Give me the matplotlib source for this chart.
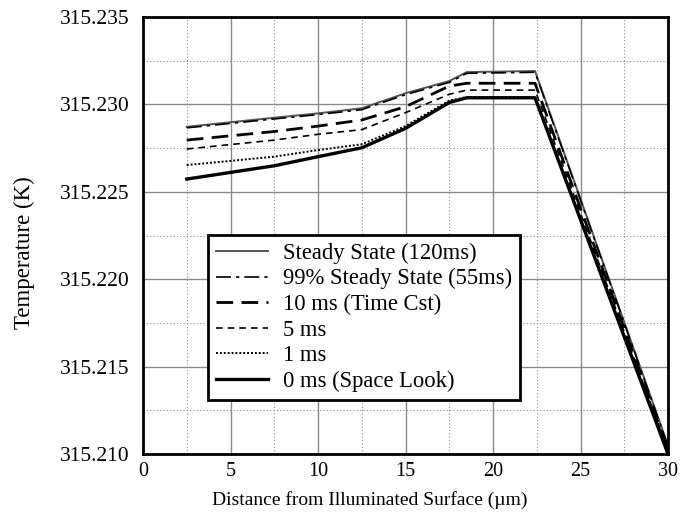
import numpy as np
import matplotlib
matplotlib.use("Agg")
import matplotlib.pyplot as plt
from matplotlib.ticker import MultipleLocator, FormatStrFormatter

plt.rcParams['font.family'] = ['Liberation Serif', 'DejaVu Serif']

# distance from illuminated surface (um)
depth = [2.5, 7.5, 10, 12.5, 15, 17.5, 18.5, 22.4, 30]

# temperature profiles (K)
t_steady = [315.22872, 315.22924, 315.22949, 315.22978, 315.23064, 315.23134, 315.23185, 315.23191, 315.21050]
t_99pct = [315.22866, 315.22917, 315.22942, 315.22970, 315.23056, 315.23126, 315.23178, 315.23184, 315.21045]
t_10ms = [315.22796, 315.22845, 315.22876, 315.22911, 315.22987, 315.23105, 315.23121, 315.23121, 315.21030]
t_5ms = [315.22745, 315.22796, 315.22829, 315.22856, 315.22953, 315.23058, 315.23082, 315.23082, 315.21020]
t_1ms = [315.22653, 315.22701, 315.22739, 315.22772, 315.22876, 315.23022, 315.23042, 315.23042, 315.21005]
t_0ms = [315.22573, 315.22649, 315.22701, 315.22752, 315.22863, 315.23011, 315.23038, 315.23038, 315.21000]

labels = ['Steady State (120ms)', '99% Steady State (55ms)', '10 ms (Time Cst)',
          '5 ms', '1 ms', '0 ms (Space Look)']

fig = plt.figure(figsize=(6.82, 5.19), dpi=100)
ax = fig.add_axes([0.2097, 0.1252, 0.7698, 0.842])

ax.plot(depth, t_steady, color='#555555', lw=1.4, ls='-', label=labels[0])
ax.plot(depth, t_99pct, color='black', lw=1.2, ls=(0, (9, 3, 2, 3)), label=labels[1])
ax.plot(depth, t_10ms, color='black', lw=2.0, ls=(0, (6, 3)), label=labels[2])
ax.plot(depth, t_5ms, color='black', lw=1.2, ls=(0, (4, 3)), label=labels[3])
ax.plot(depth, t_1ms, color='black', lw=1.4, ls=(0, (1, 1)), label=labels[4])
ax.plot(depth, t_0ms, color='black', lw=2.4, ls='-', label=labels[5])

ax.set_xlim(0, 30)
ax.set_ylim(315.210, 315.235)
ax.xaxis.set_major_locator(MultipleLocator(5))
ax.xaxis.set_minor_locator(MultipleLocator(2.5))
ax.yaxis.set_major_locator(MultipleLocator(0.005))
ax.yaxis.set_minor_locator(MultipleLocator(0.0025))
ax.yaxis.set_major_formatter(FormatStrFormatter('%.3f'))

ax.grid(which='major', color='#8a8a8a', lw=1.0, ls='-')
ax.grid(which='minor', color='#8a8a8a', lw=0.8, ls=(0, (1, 2)))
ax.set_axisbelow(True)
ax.tick_params(which='both', length=0)
ax.tick_params(axis='y', labelsize=15.5, pad=10)
ax.tick_params(axis='x', labelsize=14.5, pad=6)

for sp in ax.spines.values():
    sp.set_linewidth(2.0)
    sp.set_color('black')

ax.set_xlabel('Distance from Illuminated Surface (µm)', fontsize=14)
ax.set_ylabel('Temperature (K)', fontsize=16.5)
ax.xaxis.set_label_coords(0.432, -0.085)
ax.yaxis.set_label_coords(-0.205, 0.46)

leg = ax.legend(loc='lower left', bbox_to_anchor=(0.124, 0.124), fontsize=16.3,
                handlelength=2.3, handletextpad=0.65, borderpad=0.35, labelspacing=0.2,
                fancybox=False, framealpha=1, edgecolor='black', borderaxespad=0)
leg.get_frame().set_linewidth(2.0)

fig.savefig('out.png', dpi=100)
